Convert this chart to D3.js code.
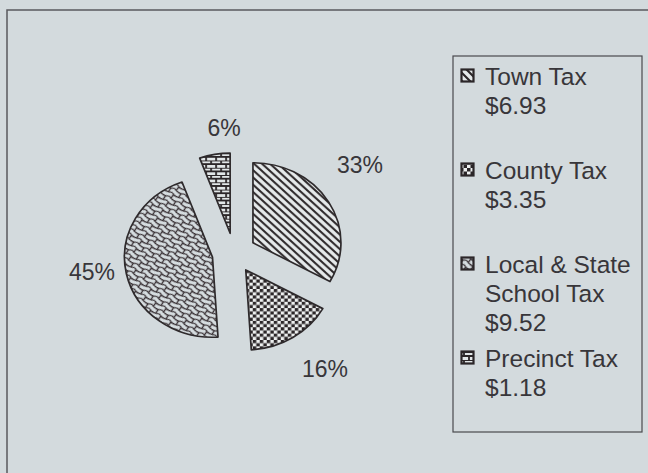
<!DOCTYPE html>
<html>
<head>
<meta charset="utf-8">
<script src="https://cdn.jsdelivr.net/npm/d3@7"></script>
<style>
  body { margin: 0; background: #d3dadd; }
  svg { display: block; }
  text { font-family: "Liberation Sans", Arial, sans-serif; fill: #38363a; }
</style>
</head>
<body>
<div id="wrapper"></div>
<script>
// data
const categories = ['Town Tax', 'County Tax', 'Local & State School Tax', 'Precinct Tax'];
const amounts = [6.93, 3.35, 9.52, 1.18];
const percentLabels = ['33%', '16%', '45%', '6%'];
const legendLines = [
    ['Town Tax', '$6.93'],
    ['County Tax', '$3.35'],
    ['Local & State', 'School Tax', '$9.52'],
    ['Precinct Tax', '$1.18']
];
const patternIds = ['pTown', 'pCounty', 'pSchool', 'pPrecinct'];

function drawChart() {
    const dimensions = {
        width: 648,
        height: 473,
        pie: { cx: 234, cy: 253, radius: 88, squash: 0.91, explode: 22 },
        legend: { x: 453, y: 56, width: 189, height: 376 }
    };
    // label spots around the pie, relative to its centre
    const labelSpots = [[126, -88], [91, 116], [-142, 19], [-10, -125]];

    const wrapper = d3.select('#wrapper')
        .append('svg')
        .attr('width', dimensions.width)
        .attr('height', dimensions.height);

    // patterns
    const defs = wrapper.append('defs');
    const ink = '#2b2628';

    const town = defs.append('pattern')
        .attr('id', 'pTown')
        .attr('patternUnits', 'userSpaceOnUse')
        .attr('width', 8).attr('height', 8);
    town.append('rect').attr('width', 8).attr('height', 8).attr('fill', '#e6eaeb');
    town.append('path')
        .attr('d', 'M-1,-1 L9,9 M-1,7 L1,9 M7,-1 L9,1')
        .attr('stroke', ink).attr('stroke-width', 2.1);

    const county = defs.append('pattern')
        .attr('id', 'pCounty')
        .attr('patternUnits', 'userSpaceOnUse')
        .attr('width', 7).attr('height', 7);
    county.append('rect').attr('width', 7).attr('height', 7).attr('fill', '#eef0f0');
    county.append('rect').attr('width', 3.5).attr('height', 3.5).attr('fill', ink);
    county.append('rect').attr('x', 3.5).attr('y', 3.5).attr('width', 3.5).attr('height', 3.5).attr('fill', ink);

    const school = defs.append('pattern')
        .attr('id', 'pSchool')
        .attr('patternUnits', 'userSpaceOnUse')
        .attr('width', 12).attr('height', 10)
        .attr('patternTransform', 'rotate(32)');
    school.append('rect').attr('width', 12).attr('height', 10).attr('fill', '#d6dde0');
    school.append('path')
        .attr('d', 'M0,1 Q6,4.5 12,1 M0,6 Q6,9.5 12,6 M2.5,2 L2.5,6.8 M8.5,6.8 L8.5,11.8 M8.5,-4 L8.5,1.8')
        .attr('fill', 'none')
        .attr('stroke', '#3a3236').attr('stroke-width', 1.4);

    const precinct = defs.append('pattern')
        .attr('id', 'pPrecinct')
        .attr('patternUnits', 'userSpaceOnUse')
        .attr('width', 10).attr('height', 8);
    precinct.append('rect').attr('width', 10).attr('height', 8).attr('fill', '#e2e7e8');
    precinct.append('path')
        .attr('d', 'M0,0 L10,0 M0,4 L10,4 M1,0 L1,4 M6,4 L6,8')
        .attr('stroke', ink).attr('stroke-width', 1.8);

    // outer frame
    wrapper.append('rect')
        .attr('x', 7).attr('y', 10)
        .attr('width', 660).attr('height', 500)
        .attr('fill', 'none')
        .attr('stroke', '#5a5a5e')
        .attr('stroke-width', 1.5);

    // pie
    const pieGenerator = d3.pie()
        .sort(null)
        .value(d => d);
    const arcs = pieGenerator(amounts);
    const arcGenerator = d3.arc()
        .innerRadius(0)
        .outerRadius(dimensions.pie.radius);

    const bounds = wrapper.append('g')
        .attr('transform', `translate(${dimensions.pie.cx},${dimensions.pie.cy})`);
    const slices = bounds.append('g')
        .attr('transform', `scale(1,${dimensions.pie.squash})`);

    const midAngle = d => (d.startAngle + d.endAngle) / 2;
    const offset = (d, r) => [Math.sin(midAngle(d)) * r, -Math.cos(midAngle(d)) * r];

    slices.selectAll('path.slice')
        .data(arcs)
        .join('path')
        .attr('class', 'slice')
        .attr('transform', d => `translate(${offset(d, dimensions.pie.explode)})`)
        .attr('d', arcGenerator)
        .attr('fill', (d, i) => `url(#${patternIds[i]})`)
        .attr('stroke', '#2e2a2c')
        .attr('stroke-width', 1.7)
        .attr('vector-effect', 'non-scaling-stroke')
        .attr('stroke-linejoin', 'round');

    bounds.selectAll('text.pct')
        .data(arcs)
        .join('text')
        .attr('class', 'pct')
        .attr('x', (d, i) => labelSpots[i][0])
        .attr('y', (d, i) => labelSpots[i][1])
        .attr('dy', '0.35em')
        .attr('text-anchor', 'middle')
        .style('font-size', '23px')
        .text((d, i) => percentLabels[i]);

    // legend
    const legend = wrapper.append('g')
        .attr('transform', `translate(${dimensions.legend.x},${dimensions.legend.y})`);
    legend.append('rect')
        .attr('width', dimensions.legend.width)
        .attr('height', dimensions.legend.height)
        .attr('fill', 'none')
        .attr('stroke', '#4a4a4e')
        .attr('stroke-width', 1.2);

    const lineHeight = 29;
    const entryStep = 94;
    legendLines.forEach((lines, i) => {
        const y = 29 + i * entryStep;
        legend.append('rect')
            .attr('x', 8.5).attr('y', y - 15.5)
            .attr('width', 12).attr('height', 12)
            .attr('fill', `url(#${patternIds[i]})`)
            .attr('stroke', ink)
            .attr('stroke-width', 2.2);
        lines.forEach((line, j) => {
            legend.append('text')
                .attr('x', 32)
                .attr('y', y + j * lineHeight)
                .style('font-size', '24.5px')
                .text(line);
        });
    });
}

drawChart();
</script>
</body>
</html>
